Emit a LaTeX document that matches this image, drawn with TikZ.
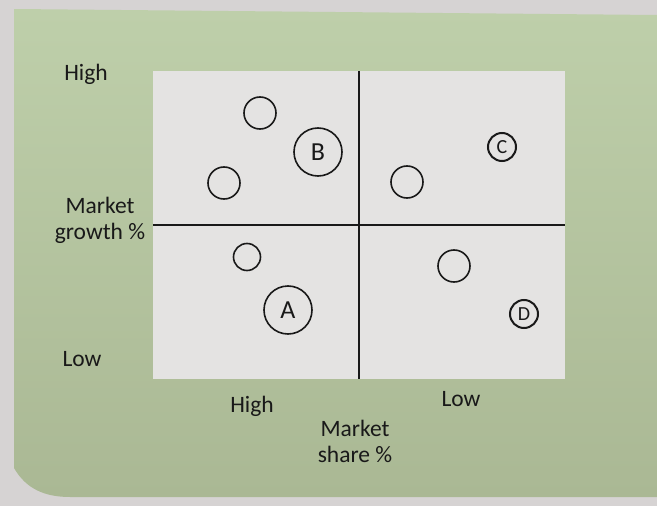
\documentclass[tikz,border=0pt]{standalone}
\usepackage{fontspec}
\setmainfont{Carlito}
\begin{document}
\begin{tikzpicture}[x=1pt,y=-1pt,
  every node/.style={font=\fontsize{23.5}{26}\selectfont, text=black!90},
  axislabel/.style={align=center, inner sep=0pt},
  unit/.style={circle, draw=black!90, line width=1.6pt, minimum size=32pt, inner sep=0pt},
  bigunit/.style={circle, draw=black!90, line width=1.6pt, minimum size=48pt, inner sep=0pt,
                  font=\fontsize{26}{28}\selectfont},
  smallunit/.style={circle, draw=black!90, line width=1.6pt, minimum size=27pt, inner sep=0pt},
  markunit/.style={circle, draw=black!90, line width=2pt, minimum size=28pt, inner sep=0pt,
                   font=\fontsize{20}{20}\selectfont},
  divider/.style={draw=black!90, line width=1.2pt}]
  \definecolor{pagegrey}{RGB}{214,211,211}
  \definecolor{panelgreen}{RGB}{190,207,170}
  \definecolor{panelgreendark}{RGB}{170,184,148}
  \definecolor{sheet}{RGB}{228,227,226}
  % page and green panel
  \fill[pagegrey] (0,0) rectangle (657,506);
  \useasboundingbox (0,0) rectangle (657,506);
  \shade[top color=panelgreen, bottom color=panelgreendark]
    (14,9) -- (657,15) -- (657,497) -- (70,497) to[out=180,in=-60] (14,468) -- cycle;
  % matrix sheet
  \node[fill=sheet, minimum width=412pt, minimum height=308pt, inner sep=0pt] (sq) at (359,225) {};
  \draw[divider] (sq.north) -- (sq.south);
  \draw[divider] (sq.west) -- (sq.east);
  % axis labels
  \node[axislabel] (gh) at (86,74) {High};
  \node[axislabel] (gm) at (100,220) {Market\\growth \%};
  \node[axislabel] (gl) at (82,359) {Low};
  \node[axislabel] (sh) at (252,406) {High};
  \node[axislabel] (sl) at (461,399) {Low};
  \node[axislabel] (sm) at (355,441) {Market\\share \%};
  % business units
  \node[unit] (u1) at (260,113) {};
  \node[bigunit] (ub) at (318,152) {B};
  \node[unit] (u2) at (224,183) {};
  \node[markunit] (uc) at (502,147) {C};
  \node[unit] (u3) at (407,182) {};
  \node[smallunit] (u4) at (247,257) {};
  \node[bigunit] (ua) at (288,310) {A};
  \node[unit] (u5) at (454,266) {};
  \node[markunit] (ud) at (524,314) {D};
\end{tikzpicture}
\end{document}
